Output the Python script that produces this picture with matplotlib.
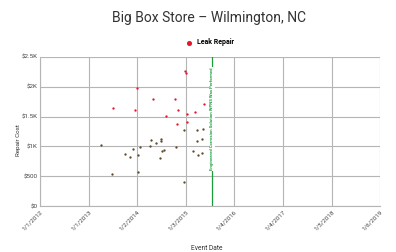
import pandas as pd
import matplotlib
matplotlib.use('Agg')
import matplotlib.pyplot as plt

plt.rcParams['font.family'] = ['Roboto', 'DejaVu Sans']

# red points (Leak Repair)
leak_dates = ['2013-07-06', '2013-12-29', '2013-12-18', '2014-05-03', '2014-08-05',
              '2014-10-15', '2014-11-03', '2014-10-31', '2015-01-09', '2015-01-15',
              '2015-03-14', '2015-05-22', '2014-12-28', '2015-01-07']
leak_cost = [1650, 1985, 1605, 1790, 1510, 1790, 1610, 1375, 1405, 1545,
             1575, 1705, 2260, 2235]

# dark points (no legend entry)
other_dates = ['2013-04-05', '2013-06-26', '2013-10-02', '2013-11-09', '2013-12-05',
               '2014-01-08', '2014-01-21', '2014-01-06', '2014-04-08', '2014-04-14',
               '2014-05-21', '2014-06-28', '2014-07-03', '2014-06-23', '2014-07-05',
               '2014-07-25', '2014-10-21', '2014-12-17', '2014-12-21', '2015-03-01',
               '2015-03-29', '2015-03-26', '2015-04-05', '2015-05-05', '2015-05-08',
               '2015-05-15']
other_cost = [1030, 530, 865, 830, 955, 850, 985, 575, 1000, 1105,
              1060, 1125, 1090, 805, 925, 935, 985, 1270, 400, 930,
              1275, 1090, 855, 895, 1125, 1285]

event_date = '2015-07-20'
event_text = 'Engineered Corrosion Solution WPNS Was Performed'

xtick_dates = ['2012-01-01', '2013-01-01', '2014-01-02', '2015-01-03',
               '2016-01-04', '2017-01-04', '2018-01-05', '2019-01-06']
xtick_labels = ['1/1/2012', '1/1/2013', '1/2/2014', '1/3/2015',
                '1/4/2016', '1/4/2017', '1/5/2018', '1/6/2019']
ytick_vals = [0, 500, 1000, 1500, 2000, 2500]
ytick_labels = ['$0', '$500', '$1K', '$1.5K', '$2K', '$2.5K']

fig = plt.figure(figsize=(3.96, 2.52), dpi=100)
ax = fig.add_axes([0.101, 0.1825, 0.859, 0.5915])

ax.scatter(pd.to_datetime(other_dates), other_cost, s=2.8, color='#5e4b2c', zorder=3, linewidths=0)
ax.scatter(pd.to_datetime(leak_dates), leak_cost, s=2.8, color='#e8152f', zorder=3, linewidths=0,
           label='Leak Repair')

ev = pd.to_datetime(event_date)
ax.axvline(ev, color='#1a9e3a', lw=0.9, zorder=2)
ax.text(ev, 1460, event_text, rotation=90, ha='center', va='center', fontsize=3.1,
        color='#1a9e3a', fontweight='bold',
        bbox=dict(facecolor='white', edgecolor='none', pad=0.5), zorder=4)

xt = pd.to_datetime(xtick_dates)
ax.set_xlim(xt[0], xt[-1])
ax.set_ylim(0, 2500)
ax.set_xticks(xt)
ax.set_xticklabels(xtick_labels, rotation=45, ha='right', rotation_mode='anchor', fontsize=4.5, color='#444444')
ax.set_yticks(ytick_vals)
ax.set_yticklabels(ytick_labels, fontsize=4.5, color='#444444')
ax.tick_params(length=0, pad=2)

ax.grid(True, color='#b5b5b5', lw=0.8)
ax.set_axisbelow(True)
for s in ['top', 'right']:
    ax.spines[s].set_visible(False)
for s in ['left', 'bottom']:
    ax.spines[s].set_color('#b5b5b5')
    ax.spines[s].set_linewidth(0.8)

ax.set_xlabel('Event Date', fontsize=4.8, color='#333333')
ax.xaxis.set_label_coords(0.49, -0.26)
ax.set_ylabel('Repair Cost', fontsize=4.5, color='#333333')
ax.yaxis.set_label_coords(-0.055, 0.44)

fig.suptitle('Big Box Store \u2013 Wilmington, NC', x=0.528, y=0.955, fontsize=10, color='#333333')
fig.legend(loc='center', bbox_to_anchor=(0.525, 0.832), frameon=False,
           handletextpad=0.1, markerscale=2.2, prop={'weight': 'bold', 'size': 5})

fig.savefig('out.png', dpi=100)
